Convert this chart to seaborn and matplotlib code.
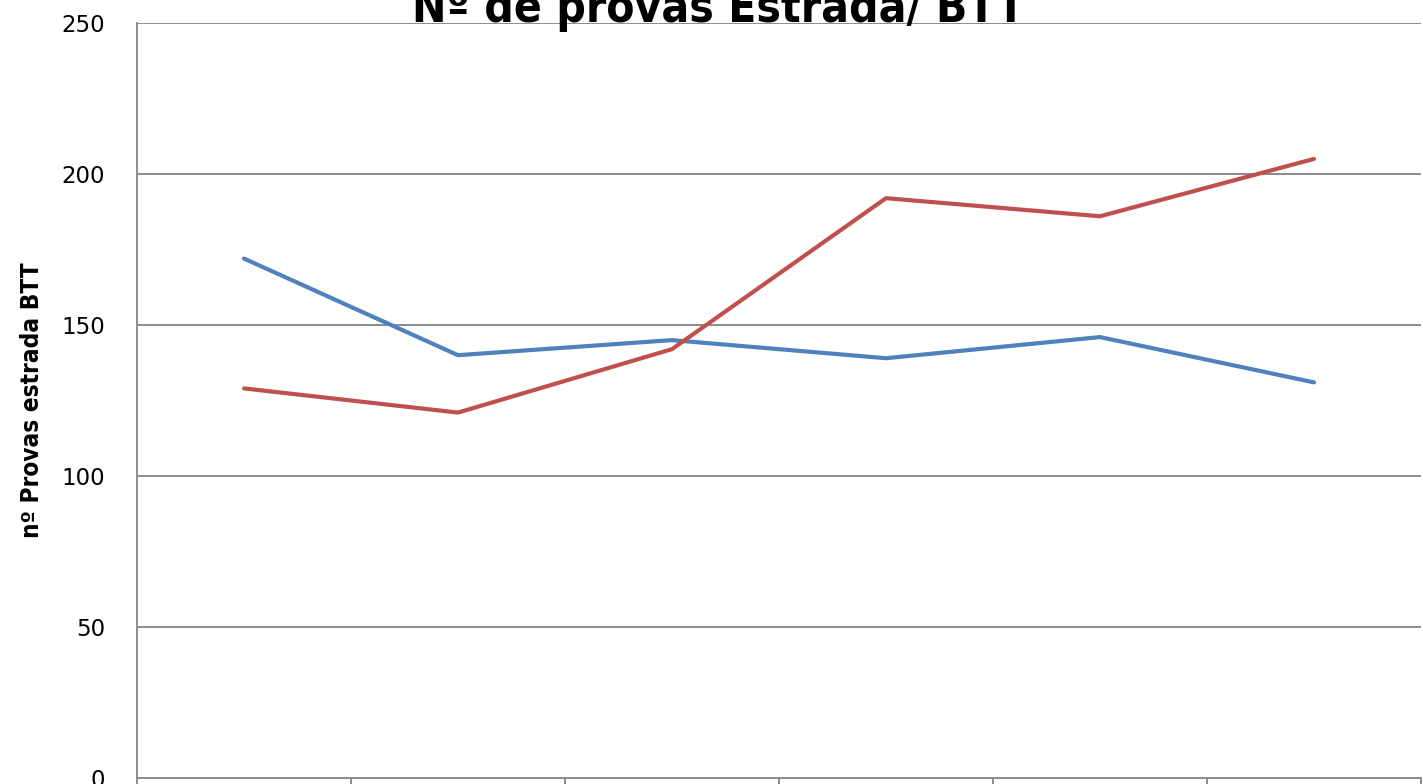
import numpy as np
import pandas as pd
import seaborn as sns
import matplotlib.pyplot as plt

# dados (6 períodos, rótulos do eixo x cortados)
categories = ["1", "2", "3", "4", "5", "6"]
estrada = [172, 140, 145, 139, 146, 131]
btt = [129, 121, 142, 192, 186, 205]

df = pd.DataFrame({
    "periodo": categories * 2,
    "provas": estrada + btt,
    "tipo": ["Estrada"] * len(categories) + ["BTT"] * len(categories),
})

sns.set_style("white")
plt.rcParams["font.family"] = ["DejaVu Sans"]

fig = plt.figure(figsize=(14.23, 7.84), dpi=100)
ax = fig.add_axes([137 / 1423, 6 / 784, (1421 - 137) / 1423, (778 - 23) / 784])

sns.lineplot(data=df, x="periodo", y="provas", hue="tipo",
             palette={"Estrada": "#4F81BD", "BTT": "#C0504D"},
             linewidth=3, legend=False, ax=ax, sort=False)

ax.set_ylim(0, 250)
ax.set_xlim(-0.5, len(categories) - 0.5)
ax.set_yticks(np.arange(0, 251, 50))
ax.yaxis.grid(True, color="#8C8C8C", linewidth=1.4)
ax.set_axisbelow(True)
ax.tick_params(axis="y", length=0, pad=23, labelsize=16.5, labelcolor="black")

# marcas entre categorias, sem rótulos
ax.set_xticks(np.arange(-0.5, len(categories), 1))
ax.set_xticklabels([])
ax.tick_params(axis="x", bottom=True, length=8, width=1.4, color="#8C8C8C", direction="out")

for s in ["top", "right"]:
    ax.spines[s].set_visible(False)
for s in ["left", "bottom"]:
    ax.spines[s].set_color("#8C8C8C")
    ax.spines[s].set_linewidth(1.4)

ax.set_xlabel("")
ax.set_ylabel("nº Provas estrada BTT", fontsize=17.5, fontweight="bold", color="black",
              fontstretch="condensed")
ax.yaxis.set_label_coords(-(137 - 44) / 1284, 0.5)

fig.text(718 / 1423, 1 - 22 / 784, "Nº de provas Estrada/ BTT", ha="center", va="baseline",
         fontsize=33, fontweight="bold", color="black", fontstretch="condensed")

fig.savefig("out.png", dpi=100)
